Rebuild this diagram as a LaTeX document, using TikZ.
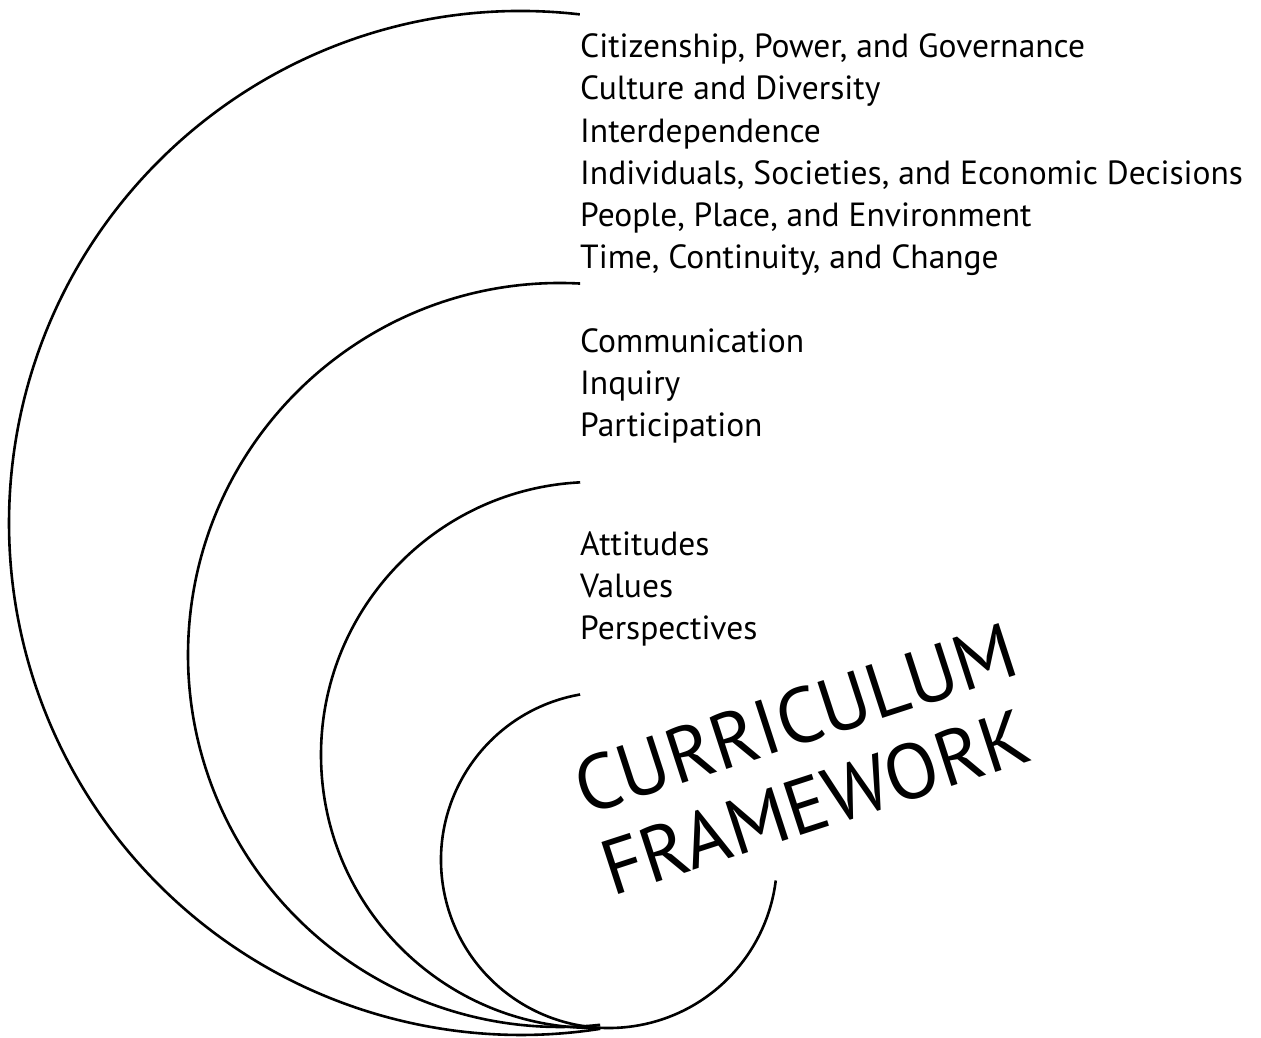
\documentclass[tikz,border=0pt]{standalone}
\usepackage{fontspec}
\setmainfont{PT Sans}
\begin{document}
\begin{tikzpicture}[x=1pt,y=1pt,
  arcline/.style={line width=2.6pt, black},
  listtext/.style={anchor=base west, inner sep=0pt, align=left, font=\fontsize{33.5}{42.3}\selectfont},
  bigtext/.style={anchor=base west, inner sep=0pt, align=left, rotate=18, font=\fontsize{78}{86}\selectfont}]
\useasboundingbox (0,0) rectangle (1261,1038);
% arc centres
\coordinate (c1) at (521,515);
\coordinate (c2) at (560,383);
\coordinate (c3) at (594,283);
\coordinate (c4) at (609,178);
\draw[arcline] ([shift={(83.4:512)}]c1) arc[start angle=83.4, end angle=278.9, radius=512];
\draw[arcline] ([shift={(86.9:372)}]c2) arc[start angle=86.9, end angle=276.2, radius=372];
\draw[arcline] ([shift={(92.9:273)}]c3) arc[start angle=92.9, end angle=271.3, radius=273];
\draw[arcline] ([shift={(99.9:168)}]c4) arc[start angle=99.9, end angle=353, radius=168];
\node[listtext] (g1) at (580,769) {Citizenship, Power, and Governance\\Culture and Diversity\\Interdependence\\Individuals, Societies, and Economic Decisions\\People, Place, and Environment\\Time, Continuity, and Change};
\node[listtext] (g2) at (580,601) {Communication\\Inquiry\\Participation};
\node[listtext] (g3) at (580,398) {Attitudes\\Values\\Perspectives};
\node[bigtext] (cf) at (612,141) {CURRICULUM\\FRAMEWORK};
\end{tikzpicture}
\end{document}
